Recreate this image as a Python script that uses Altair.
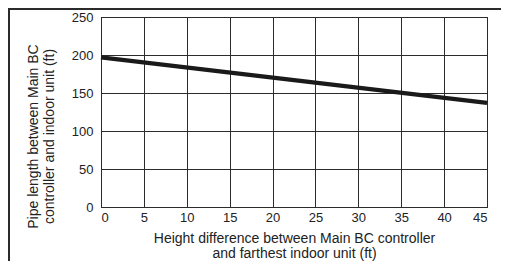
import altair as alt
import pandas as pd

# Data
height_diff = [0, 45]
pipe_length = [197, 137]
x_ticks = [0, 5, 10, 15, 20, 25, 30, 35, 40, 45]
y_ticks = [0, 50, 100, 150, 200, 250]

df = pd.DataFrame({"h": height_diff, "p": pipe_length})

FONT = "Liberation Sans"
DARK = "#2b2b2b"

frame = alt.Chart(pd.DataFrame({"a": [0]})).mark_rect(
    fill=None, stroke=DARK, strokeWidth=2, clip=False
).encode(
    x=alt.value(-92), x2=alt.value(700), y=alt.value(-8), y2=alt.value(500)
)

line = alt.Chart(df).mark_line(color="#1a1a1a", strokeWidth=4.3).encode(
    x=alt.X(
        "h:Q",
        scale=alt.Scale(domain=[0, 45], nice=False),
        axis=alt.Axis(
            values=x_ticks,
            title=["Height difference between Main BC controller", "and farthest indoor unit (ft)"],
            titlePadding=7,
            titleLineHeight=15,
            labelPadding=4,
        ),
    ),
    y=alt.Y(
        "p:Q",
        scale=alt.Scale(domain=[0, 250], nice=False),
        axis=alt.Axis(
            values=y_ticks,
            title=["Pipe length between Main BC", "controller and indoor unit (ft)"],
            titlePadding=15,
            titleY=119,
            labelPadding=8,
        ),
    ),
)

chart = alt.layer(frame, line).properties(
    width=386,
    height=190,
    background="white",
    autosize=alt.AutoSizeParams(type="none"),
    padding={"left": 93, "top": 9, "right": 14, "bottom": 54},
).configure_view(
    stroke=DARK, strokeWidth=1
).configure_axis(
    grid=True,
    gridColor=DARK,
    gridOpacity=1,
    gridWidth=1,
    domainColor=DARK,
    domainWidth=1,
    ticks=False,
    labelFont=FONT,
    labelFontSize=13,
    labelColor="#222222",
    titleFont=FONT,
    titleFontSize=14,
    titleFontWeight="normal",
    titleColor="#222222",
    titleLineHeight=16,
)

chart.save("out.html", embed_options={"renderer": "svg", "actions": False})
